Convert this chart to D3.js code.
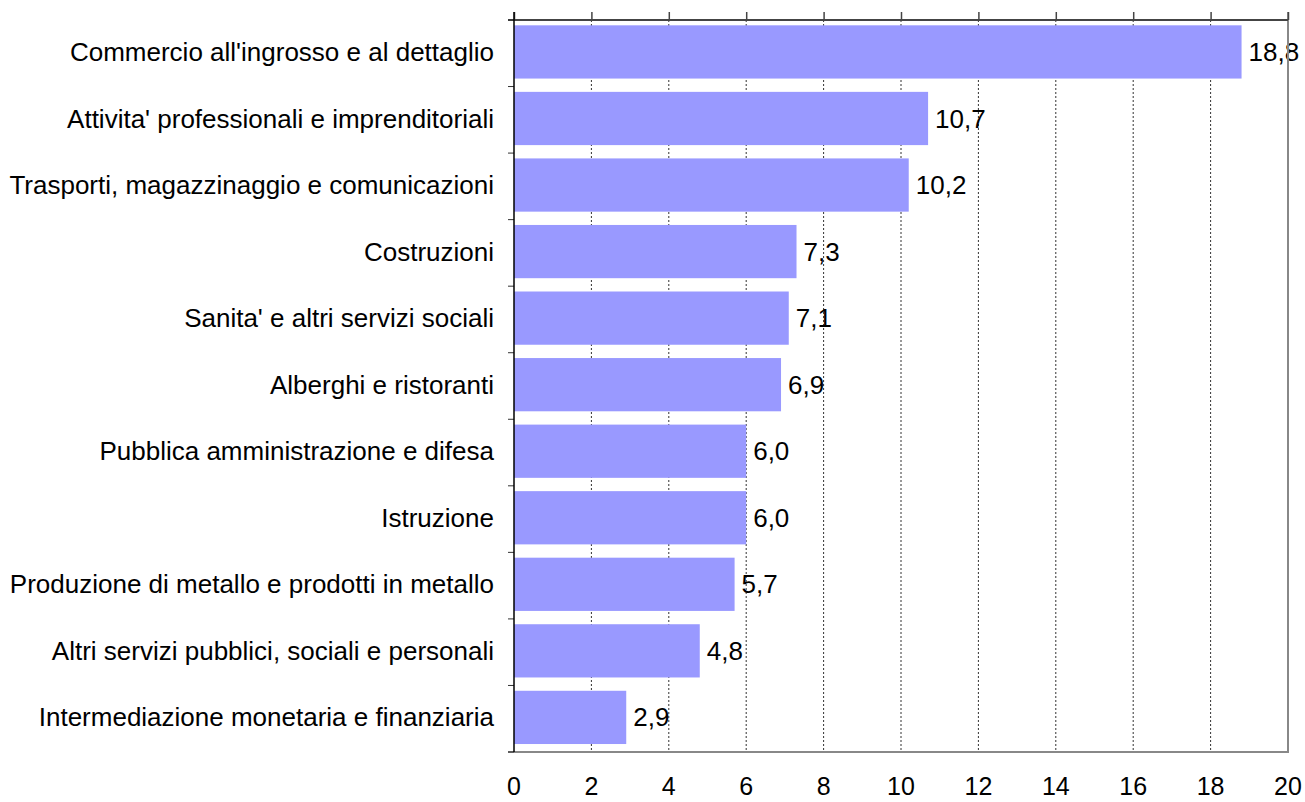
<!DOCTYPE html>
<html>
<head>
<meta charset="utf-8">
<script src="https://cdn.jsdelivr.net/npm/d3@7"></script>
<style>
body { margin:0; background:#fff; }
text { font-family: "Liberation Sans", Arial, sans-serif; fill:#000; }
</style>
</head>
<body>
<div id="chart"></div>
<script>
// data
const categories = [
	"Commercio all'ingrosso e al dettaglio",
	"Attivita' professionali e imprenditoriali",
	"Trasporti, magazzinaggio e comunicazioni",
	"Costruzioni",
	"Sanita' e altri servizi sociali",
	"Alberghi e ristoranti",
	"Pubblica amministrazione e difesa",
	"Istruzione",
	"Produzione di metallo e prodotti in metallo",
	"Altri servizi pubblici, sociali e personali",
	"Intermediazione monetaria e finanziaria"
];
const values = [18.8, 10.7, 10.2, 7.3, 7.1, 6.9, 6.0, 6.0, 5.7, 4.8, 2.9];
const xTicks = [0, 2, 4, 6, 8, 10, 12, 14, 16, 18, 20];

//sizing
let width = 1305, height = 802;
let margin = {top:20, right:17, bottom:50, left:514};

let svg = d3.select("#chart").append("svg")
	.attr("width", width)
	.attr("height", height);

let x = d3.scaleLinear().domain([0, 20]).range([margin.left, width - margin.right]);
let y = d3.scaleBand().domain(categories).range([margin.top, height - margin.bottom])
	.paddingInner(0.2).paddingOuter(0.1).align(0.4);

const fmt = d3.formatLocale({decimal:",", thousands:".", grouping:[3], currency:["",""]}).format(".1f");

// dotted grid
svg.append("g")
	.selectAll("line")
	.data(xTicks.slice(1, -1))
	.join("line")
	.attr("x1", d => x(d)).attr("x2", d => x(d))
	.attr("y1", margin.top).attr("y2", height - margin.bottom)
	.attr("stroke", "#333")
	.attr("stroke-width", 1)
	.attr("stroke-dasharray", "2,2");

// bars
svg.append("g")
	.selectAll("rect")
	.data(values)
	.join("rect")
	.attr("x", x(0))
	.attr("y", (d, i) => y(categories[i]))
	.attr("width", d => x(d) - x(0))
	.attr("height", y.bandwidth())
	.attr("fill", "#9999ff");

// value labels
svg.append("g")
	.selectAll("text")
	.data(values)
	.join("text")
	.attr("x", d => x(d) + 7)
	.attr("y", (d, i) => y(categories[i]) + y.bandwidth() / 2)
	.attr("dy", "0.35em")
	.attr("font-size", 26)
	.text(d => fmt(d));

// frame: right + bottom grey
svg.append("line")
	.attr("x1", x(20)).attr("x2", x(20))
	.attr("y1", margin.top - 8).attr("y2", height - margin.bottom)
	.attr("stroke", "#888").attr("stroke-width", 2);
svg.append("line")
	.attr("x1", margin.left - 6).attr("x2", x(20) + 1)
	.attr("y1", height - margin.bottom).attr("y2", height - margin.bottom)
	.attr("stroke", "#888").attr("stroke-width", 2);

// top axis
let topAxis = svg.append("g")
	.attr("transform", `translate(0,${margin.top})`)
	.call(d3.axisTop(x).tickValues(xTicks).tickSize(8).tickFormat(""));
topAxis.select(".domain").remove();
topAxis.selectAll(".tick line").attr("stroke", "#444").attr("stroke-width", 1.5);
svg.append("line")
	.attr("x1", margin.left - 6).attr("x2", x(20))
	.attr("y1", margin.top).attr("y2", margin.top)
	.attr("stroke", "#444").attr("stroke-width", 2);

// bottom tick labels
svg.append("g")
	.selectAll("text")
	.data(xTicks)
	.join("text")
	.attr("x", d => x(d))
	.attr("y", 795)
	.attr("text-anchor", "middle")
	.attr("font-size", 25)
	.text(d => d);

// left axis
let bounds = d3.range(categories.length + 1).map(i => margin.top + i * (height - margin.bottom - margin.top) / categories.length);
svg.append("g")
	.selectAll("line")
	.data(bounds)
	.join("line")
	.attr("x1", margin.left - 6).attr("x2", margin.left)
	.attr("y1", d => d).attr("y2", d => d)
	.attr("stroke", "#333").attr("stroke-width", 1);
svg.append("line")
	.attr("x1", margin.left).attr("x2", margin.left)
	.attr("y1", margin.top - 8).attr("y2", height - margin.bottom)
	.attr("stroke", "#000").attr("stroke-width", 1.5);

// category labels
svg.append("g")
	.selectAll("text")
	.data(categories)
	.join("text")
	.attr("x", margin.left - 20)
	.attr("y", d => y(d) + y.bandwidth() / 2)
	.attr("dy", "0.35em")
	.attr("text-anchor", "end")
	.attr("font-size", 26)
	.text(d => d);
</script>
</body>
</html>
